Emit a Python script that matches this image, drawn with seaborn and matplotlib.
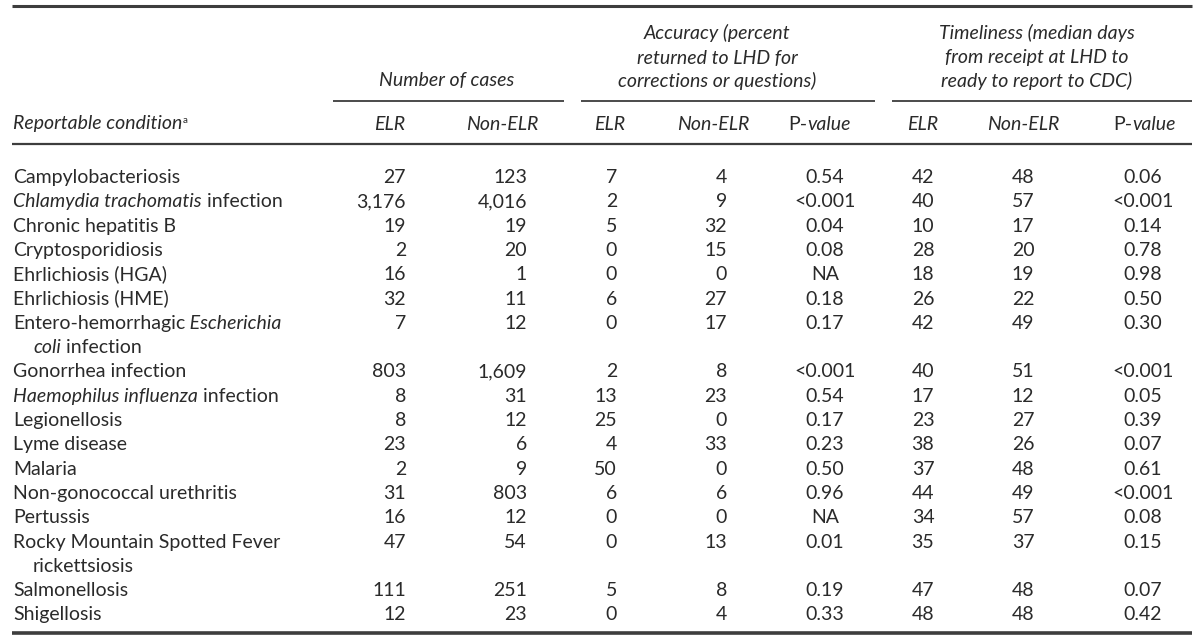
import matplotlib
matplotlib.use("Agg")
import matplotlib.pyplot as plt
import seaborn as sns

# table contents (italic parts marked with *...*)
conditions = [
    "Campylobacteriosis",
    "*Chlamydia trachomatis* infection",
    "Chronic hepatitis B",
    "Cryptosporidiosis",
    "Ehrlichiosis (HGA)",
    "Ehrlichiosis (HME)",
    "Entero-hemorrhagic *Escherichia*\n*coli* infection",
    "Gonorrhea infection",
    "*Haemophilus influenza* infection",
    "Legionellosis",
    "Lyme disease",
    "Malaria",
    "Non-gonococcal urethritis",
    "Pertussis",
    "Rocky Mountain Spotted Fever\nrickettsiosis",
    "Salmonellosis",
    "Shigellosis",
]
cases_elr = [27, 3176, 19, 2, 16, 32, 7, 803, 8, 8, 23, 2, 31, 16, 47, 111, 12]
cases_non = [123, 4016, 19, 20, 1, 11, 12, 1609, 31, 12, 6, 9, 803, 12, 54, 251, 23]
acc_elr = [7, 2, 5, 0, 0, 6, 0, 2, 13, 25, 4, 50, 6, 0, 0, 5, 0]
acc_non = [4, 9, 32, 15, 0, 27, 17, 8, 23, 0, 33, 0, 6, 0, 13, 8, 4]
acc_p = ["0.54", "<0.001", "0.04", "0.08", "NA", "0.18", "0.17", "<0.001", "0.54",
         "0.17", "0.23", "0.50", "0.96", "NA", "0.01", "0.19", "0.33"]
time_elr = [42, 40, 10, 28, 18, 26, 42, 40, 17, 23, 38, 37, 44, 34, 35, 47, 48]
time_non = [48, 57, 17, 20, 19, 22, 49, 51, 12, 27, 26, 48, 49, 57, 37, 48, 48]
time_p = ["0.06", "<0.001", "0.14", "0.78", "0.98", "0.50", "0.30", "<0.001", "0.05",
          "0.39", "0.07", "0.61", "<0.001", "0.08", "0.15", "0.07", "0.42"]

group_headers = [
    (["Number of cases"], 447, [79]),
    (["Accuracy (percent", "returned to LHD for", "corrections or questions)"], 717, [33, 57, 80]),
    (["Timeliness (median days", "from receipt at LHD to", "ready to report to CDC)"], 1037, [33, 57, 80]),
]
sub_headers = ["ELR", "Non-ELR", "ELR", "Non-ELR", "P-value", "ELR", "Non-ELR", "P-value"]

sns.set_theme(style="white")
plt.rcParams["font.family"] = ["Lato", "DejaVu Sans"]

TXT = "#2a2a2a"
LINE = "#3d3d3d"
FS = 14

fig = plt.figure(figsize=(12, 6.38), dpi=100)
ax = fig.add_axes([0, 0, 1, 1])
ax.set_xlim(0, 1200)
ax.set_ylim(638, 0)
ax.axis("off")


def rich_text(x, y, markup, size=FS):
    # split "*...*" markup into alternating upright / italic pieces
    parts = markup.split("*")
    segs = []
    carry = ""
    for i, p in enumerate(parts):
        p = carry + p
        carry = ""
        if p.endswith(" "):
            carry = " "
            p = p.rstrip(" ")
        if p:
            segs.append((p, i % 2 == 1))
    prev = None
    for s, it in segs:
        style = "italic" if it else "normal"
        if prev is None:
            prev = ax.text(x, y, s, ha="left", va="baseline", fontsize=size,
                           style=style, color=TXT)
        else:
            prev = ax.annotate(s, xy=(1, 0), xycoords=prev, ha="left", va="bottom",
                               fontsize=size, style=style, color=TXT)
    return prev


# rules
for y, lw in [(6, 2.2), (144, 1.6), (633, 2.6)]:
    ax.plot([12, 1192], [y, y], color=LINE, lw=lw, solid_capstyle="butt")
for x0, x1 in [(333, 564), (581, 875), (892, 1192)]:
    ax.plot([x0, x1], [101, 101], color=LINE, lw=1.3, solid_capstyle="butt")

# group headers
for lines, cx, ys in group_headers:
    for ln, yy in zip(lines, ys):
        ax.text(cx, yy + 6.5, ln, ha="center", va="baseline", fontsize=FS,
                style="italic", color=TXT)

# sub header row
head = rich_text(13, 129.5, "*Reportable condition*")
ax.annotate("a", xy=(1, 0.45), xycoords=head, xytext=(0.5, 0), textcoords="offset points",
            ha="left", va="bottom", fontsize=7, color=TXT)
sub_x = [390, 502, 610, 713, 820, 923, 1023, 1145]
for sx, lab in zip(sub_x, sub_headers):
    if lab == "P-value":
        # "P-" upright, "value" italic
        ax.text(sx - 13, 129.5, "P-", ha="right", va="baseline", fontsize=FS, color=TXT)
        ax.text(sx - 13, 129.5, "value", ha="left", va="baseline", fontsize=FS,
                style="italic", color=TXT)
    else:
        ax.text(sx, 129.5, lab, ha="center", va="baseline", fontsize=FS,
                style="italic", color=TXT)

# body
cols = [
    ([f"{v:,}" for v in cases_elr], 406, "right"),
    ([f"{v:,}" for v in cases_non], 527, "right"),
    ([str(v) for v in acc_elr], 617, "right"),
    ([str(v) for v in acc_non], 727, "right"),
    (acc_p, 825, "center"),
    ([str(v) for v in time_elr], 923, "center"),
    ([str(v) for v in time_non], 1023, "center"),
    (time_p, 1143, "center"),
]
line_h = 24.3
y = 176
for i, cond in enumerate(conditions):
    base = y + 7
    for j, ln in enumerate(cond.split("\n")):
        rich_text(13 + (20 if j else 0), base + j * line_h, ln)
    for vals, cx, ha in cols:
        ax.text(cx, base, vals[i], ha=ha, va="baseline", fontsize=FS, color=TXT)
    y += line_h * (cond.count("\n") + 1)

fig.savefig("out.png", dpi=100)
